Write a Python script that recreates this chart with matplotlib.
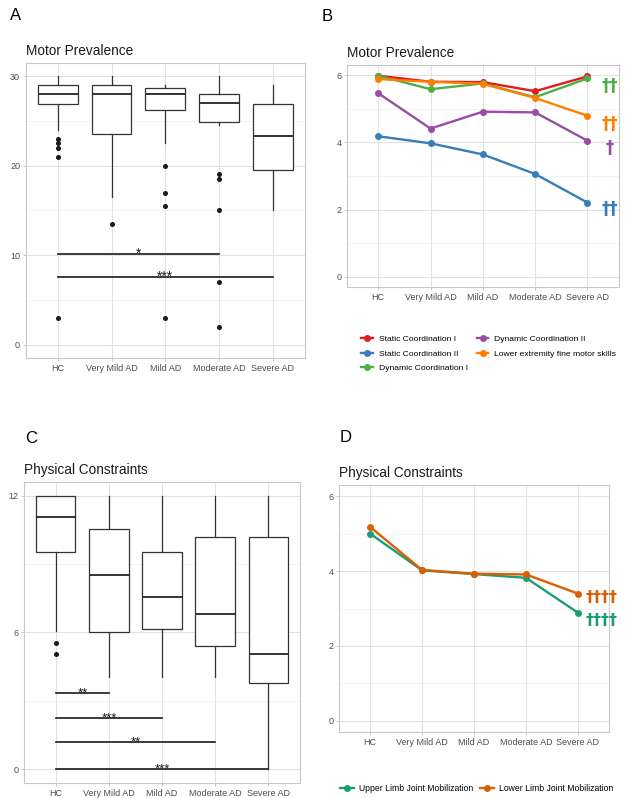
import matplotlib.pyplot as plt
from matplotlib.ticker import FixedLocator

plt.rcParams['font.family'] = ['Liberation Sans', 'DejaVu Sans']

GROUPS = ["HC", "Very Mild AD", "Mild AD", "Moderate AD", "Severe AD"]

# Panel A - Motor prevalence box plots
motor_lo = [24.0, 16.5, 22.6, 24.6, 15.1]
motor_q1 = [26.95, 23.5, 26.2, 24.9, 19.5]
motor_med = [28.05, 28.0, 28.0, 27.0, 23.3]
motor_q3 = [29.0, 29.0, 28.7, 28.0, 26.95]
motor_hi = [30.0, 30.0, 29.0, 30.0, 29.0]
motor_out = [[23.0, 22.5, 22.0, 21.0, 3.0], [13.5], [20.0, 17.0, 15.5, 3.0],
             [19.1, 18.5, 15.0, 7.0, 2.0], []]
motor_sig = [(1, 4, 10.1, "*"), (1, 5, 7.55, "***")]

# Panel B - motor subscales (means)
motor_series = ["Static Coordination I", "Static Coordination II",
                "Dynamic Coordination I", "Dynamic Coordination II",
                "Lower extremity fine motor skills"]
static1 = [5.98, 5.80, 5.79, 5.52, 5.96]
static2 = [4.18, 3.97, 3.64, 3.06, 2.21]
dynamic1 = [5.98, 5.58, 5.75, 5.34, 5.90]
dynamic2 = [5.46, 4.41, 4.91, 4.89, 4.05]
fine_motor = [5.88, 5.80, 5.74, 5.32, 4.79]
motor_daggers = ["", "††", "††", "†", "††"]
motor_dagger_y = [None, 2.01, 5.66, 3.82, 4.54]
motor_colors = ["#E41A1C", "#377EB8", "#4DAF4A", "#984EA3", "#FF7F00"]

# Panel C - Physical constraints box plots
phys_lo = [6.06, 4.04, 4.04, 4.04, 0.0]
phys_q1 = [9.55, 6.03, 6.16, 5.39, 3.78]
phys_med = [11.05, 8.54, 7.55, 6.79, 5.05]
phys_q3 = [12.0, 10.54, 9.55, 10.18, 10.18]
phys_hi = [12.0, 12.0, 12.0, 12.0, 12.0]
phys_out = [[5.53, 5.04], [], [], [], []]
phys_sig = [(1, 2, 3.34, "**"), (1, 3, 2.26, "***"),
            (1, 4, 1.2, "**"), (1, 5, 0.0, "***")]

# Panel D - joint mobilization (means)
phys_series = ["Upper Limb Joint Mobilization", "Lower Limb Joint Mobilization"]
upper_limb = [5.00, 4.02, 3.92, 3.82, 2.89]
lower_limb = [5.18, 4.03, 3.93, 3.91, 3.40]
phys_daggers = ["††††", "††††"]
phys_dagger_y = [2.69, 3.29]
phys_colors = ["#1B9E77", "#D95F02"]

X = [1, 2, 3, 4, 5]
TICK_COLOR = "#4D4D4D"


def style_axes(ax, ylim, major, minor):
    ax.set_xlim(0.4, 5.6)
    ax.set_ylim(*ylim)
    ax.set_xticks(X)
    ax.set_xticklabels(GROUPS)
    ax.yaxis.set_major_locator(FixedLocator(major))
    ax.yaxis.set_minor_locator(FixedLocator(minor))
    ax.set_yticklabels([f"{v:g}" for v in major])
    ax.grid(True, which="major", color="#E2E2E2", lw=0.8, zorder=0)
    ax.grid(True, which="minor", axis="y", color="#EFEFEF", lw=0.5, zorder=0)
    ax.set_axisbelow(True)
    ax.tick_params(axis="both", which="major", labelsize=6.5,
                   labelcolor=TICK_COLOR, color="#BBBBBB", length=2, width=0.6, pad=2)
    ax.tick_params(axis="y", which="minor", length=0)
    for s in ax.spines.values():
        s.set_color("#C8C8C8")
        s.set_linewidth(0.8)


def boxes(ax, lo, q1, med, q3, hi, out):
    stats = []
    for i in range(len(GROUPS)):
        stats.append(dict(whislo=lo[i], q1=q1[i], med=med[i], q3=q3[i],
                          whishi=hi[i], fliers=out[i]))
    ax.bxp(stats, positions=X, widths=0.74, patch_artist=True, showcaps=False,
           boxprops=dict(facecolor="white", edgecolor="#333333", lw=0.9),
           medianprops=dict(color="#333333", lw=1.4),
           whiskerprops=dict(color="#333333", lw=0.9),
           flierprops=dict(marker="o", markersize=2.6, markerfacecolor="#1A1A1A",
                           markeredgecolor="#1A1A1A"))


def sig_bars(ax, sig, fs):
    for a, b, y, label in sig:
        ax.plot([a, b], [y, y], color="#1A1A1A", lw=1.2, zorder=4)
        ax.annotate(label, xy=((a + b) / 2, y), xytext=(0, -2.5),
                    textcoords="offset points", ha="center", va="baseline",
                    fontsize=fs, color="#1A1A1A")


def daggers(ax, labels, ys, colors, fs, x):
    for txt, y, col in zip(labels, ys, colors):
        if txt:
            ax.text(x, y, txt, color=col, fontsize=fs, fontweight="bold",
                    family="DejaVu Sans", ha="center", va="center",
                    clip_on=False, zorder=5)


fig = plt.figure(figsize=(6.25, 7.98), dpi=100)

# A
axA = fig.add_axes([0.041, 0.5514, 0.447, 0.3697])
boxes(axA, motor_lo, motor_q1, motor_med, motor_q3, motor_hi, motor_out)
sig_bars(axA, motor_sig, 10)
style_axes(axA, (-1.5, 31.5), [0, 10, 20, 30], [5, 15, 25])
axA.set_title("Motor Prevalence", loc="left", fontsize=9.8, color="#1A1A1A", pad=6)
fig.text(0.016, 0.981, "A", fontsize=12, va="center", ha="left")

# B
axB = fig.add_axes([0.555, 0.6404, 0.435, 0.2782])
for vals, name, col in zip([static1, static2, dynamic1, dynamic2, fine_motor],
                           motor_series, motor_colors):
    axB.plot(X, vals, color=col, lw=1.7, marker="o", markersize=4, label=name,
             zorder=3)
daggers(axB, motor_daggers, motor_dagger_y, motor_colors, 12, 5.43)
style_axes(axB, (-0.3, 6.3), [0, 2, 4, 6], [1, 3, 5])
axB.set_title("Motor Prevalence", loc="left", fontsize=9.8, color="#1A1A1A", pad=6)
fig.text(0.515, 0.979, "B", fontsize=12, va="center", ha="left")
fig.legend(*axB.get_legend_handles_labels(), loc="upper center",
           bbox_to_anchor=(0.782, 0.585), ncol=2, frameon=False, fontsize=6.1,
           handlelength=1.4, handletextpad=0.7, columnspacing=1.0,
           labelspacing=0.75, borderpad=0)

# C
axC = fig.add_axes([0.0384, 0.0188, 0.4416, 0.3772])
boxes(axC, phys_lo, phys_q1, phys_med, phys_q3, phys_hi, phys_out)
sig_bars(axC, phys_sig, 9.5)
style_axes(axC, (-0.6, 12.6), [0, 6, 12], [3, 9])
axC.set_title("Physical Constraints", loc="left", fontsize=9.8, color="#1A1A1A", pad=6)
fig.text(0.04, 0.451, "C", fontsize=12, va="center", ha="left")

# D
axD = fig.add_axes([0.5424, 0.0827, 0.432, 0.3095])
for vals, name, col in zip([upper_limb, lower_limb], phys_series, phys_colors):
    axD.plot(X, vals, color=col, lw=1.7, marker="o", markersize=4, label=name,
             zorder=3)
daggers(axD, phys_daggers, phys_dagger_y, phys_colors, 11.5, 5.45)
style_axes(axD, (-0.3, 6.3), [0, 2, 4, 6], [1, 3, 5])
axD.set_title("Physical Constraints", loc="left", fontsize=9.8, color="#1A1A1A", pad=6)
fig.text(0.543, 0.452, "D", fontsize=12, va="center", ha="left")
fig.legend(*axD.get_legend_handles_labels(), loc="center",
           bbox_to_anchor=(0.763, 0.0125), ncol=2, frameon=False, fontsize=6.2,
           handlelength=1.6, handletextpad=0.6, columnspacing=0.8, borderpad=0)

fig.savefig("out.png", dpi=100, facecolor="white")
